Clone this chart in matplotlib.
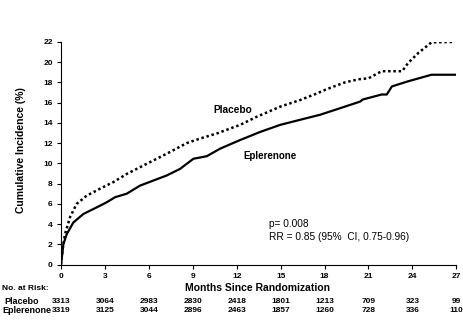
import matplotlib.pyplot as plt
from matplotlib.transforms import blended_transform_factory

plt.rcParams['font.family'] = ['Liberation Sans', 'DejaVu Sans']

# Cumulative incidence curves (months, %)
placebo_m = [0, 0.12, 0.27, 0.62, 1.07, 1.75, 2.67, 3.58, 4.49, 5.85, 7.22, 8.59,
             9.5, 10.64, 12.23, 13.37, 14.97, 16.33, 17.47, 18.1, 19.4, 20.3, 21.0,
             21.9, 23.3, 23.7, 24.4, 25.3, 26.9]
placebo_v = [0, 1.6, 3.0, 4.7, 6.0, 6.8, 7.5, 8.15, 8.95, 9.95, 10.95, 12.0,
             12.45, 12.95, 13.8, 14.6, 15.6, 16.25, 16.9, 17.3, 18.0, 18.3, 18.4,
             19.1, 19.1, 19.9, 20.9, 21.95, 22.0]

epler_m = [0, 0.16, 0.39, 0.84, 1.53, 2.44, 3.12, 3.69, 4.49, 5.4, 6.31, 7.22,
           8.13, 9.04, 9.95, 10.87, 12.23, 13.6, 14.97, 16.33, 17.7, 19.07, 20.43,
           20.6, 21.9, 22.25, 22.6, 23.7, 25.3, 26.9]
epler_v = [0, 2.0, 3.0, 4.15, 5.0, 5.65, 6.15, 6.65, 7.0, 7.8, 8.3, 8.8,
           9.45, 10.45, 10.7, 11.45, 12.3, 13.1, 13.8, 14.3, 14.8, 15.45, 16.1,
           16.3, 16.8, 16.8, 17.6, 18.1, 18.75, 18.75]

risk_months = [0, 3, 6, 9, 12, 15, 18, 21, 24, 27]
risk_placebo = [3313, 3064, 2983, 2830, 2418, 1801, 1213, 709, 323, 99]
risk_epler = [3319, 3125, 3044, 2896, 2463, 1857, 1260, 728, 336, 110]

fig = plt.figure(figsize=(4.64, 3.27), dpi=100)
ax = fig.add_axes([0.1315, 0.191, 0.852, 0.681])

ax.plot(epler_m, epler_v, color='black', lw=1.6)
ax.plot(placebo_m, placebo_v, color='black', lw=1.8, linestyle=(0, (1, 1.1)))

ax.set_xlim(0, 27)
ax.set_ylim(0, 22)
ax.set_xticks(risk_months)
ax.set_yticks(range(0, 23, 2))
ax.tick_params(labelsize=6, length=3, width=0.8, pad=3)
for lbl in ax.get_xticklabels() + ax.get_yticklabels():
    lbl.set_fontweight('bold')
ax.spines['top'].set_visible(False)
ax.spines['right'].set_visible(False)

ax.text(11.7, 15.25, 'Placebo', fontsize=7.3, fontweight='bold', ha='center', va='center')
ax.text(14.3, 10.7, 'Eplerenone', fontsize=7, fontweight='bold', ha='center', va='center')
ax.text(14.2, 4.0, 'p= 0.008', fontsize=7.3, ha='left', va='center')
ax.text(14.2, 2.75, 'RR = 0.85 (95%  CI, 0.75-0.96)', fontsize=7.3, ha='left', va='center')

fig.text(0.045, 0.541, 'Cumulative Incidence (%)', rotation=90, fontsize=7.5,
         fontweight='bold', ha='center', va='center')
fig.text(0.554, 0.119, 'Months Since Randomization', fontsize=7.5,
         fontweight='bold', ha='center', va='center')
fig.text(0.005, 0.119, 'No. at Risk:', fontsize=6, fontweight='heavy',
         ha='left', va='center')

# number at risk table
tr = blended_transform_factory(ax.transData, fig.transFigure)
fig.text(0.01, 0.0765, 'Placebo', fontsize=6.5, fontweight='bold', ha='left', va='center')
fig.text(0.005, 0.049, 'Eplerenone', fontsize=6.5, fontweight='bold', ha='left', va='center')
for m, p, e in zip(risk_months, risk_placebo, risk_epler):
    ax.text(m, 0.0765, str(p), transform=tr, fontsize=6, fontweight='bold',
            ha='center', va='center', clip_on=False)
    ax.text(m, 0.049, str(e), transform=tr, fontsize=6, fontweight='bold',
            ha='center', va='center', clip_on=False)

fig.savefig('out.png', dpi=100)
